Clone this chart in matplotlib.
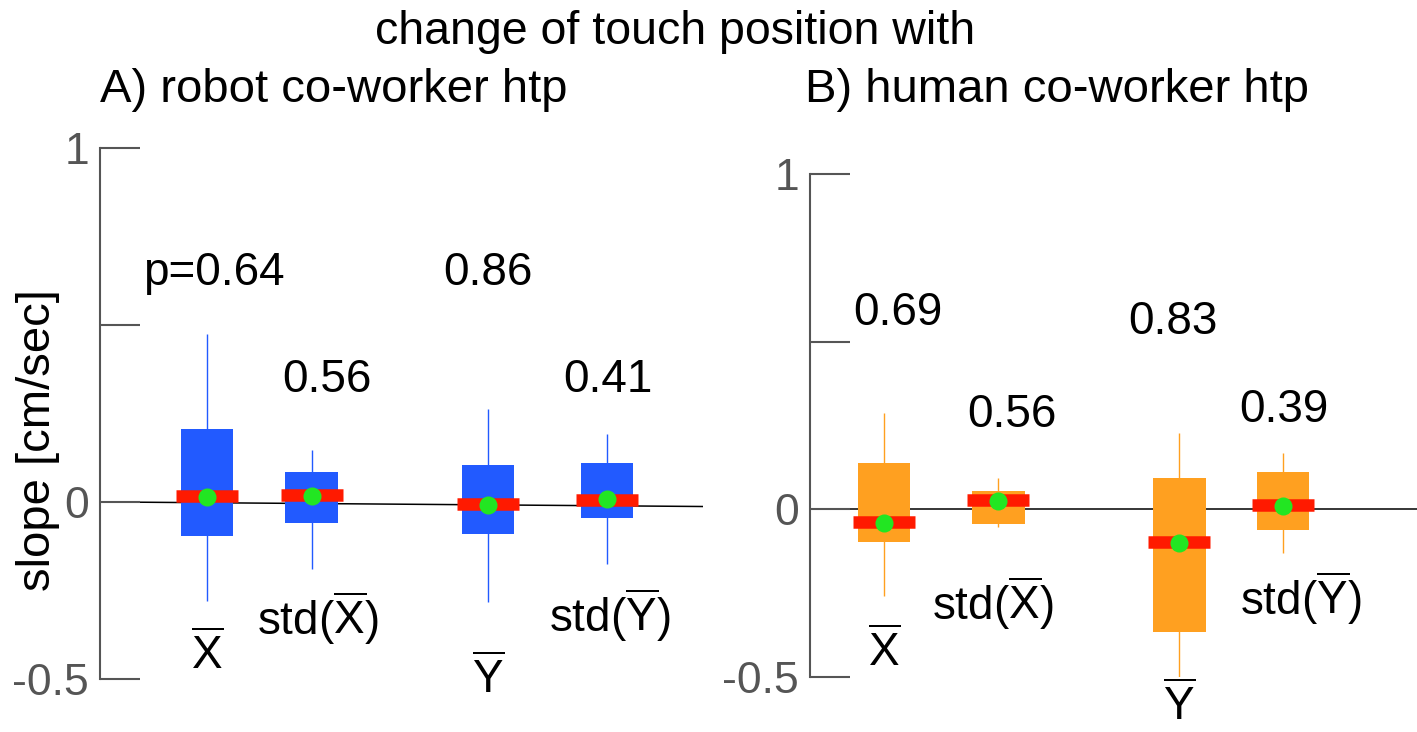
import matplotlib
matplotlib.use("Agg")
import matplotlib.pyplot as plt
import numpy as np

plt.rcParams['font.family'] = ['Liberation Sans', 'DejaVu Sans']
plt.rcParams['mathtext.fontset'] = 'custom'
plt.rcParams['mathtext.rm'] = 'Liberation Sans'
plt.rcParams['mathtext.it'] = 'Liberation Sans:italic'

# ---- data ----
categories = [r'$\overline{\mathrm{X}}$', r'std($\overline{\mathrm{X}}$)',
              r'$\overline{\mathrm{Y}}$', r'std($\overline{\mathrm{Y}}$)']

robot_q1 = [-0.095, -0.059, -0.092, -0.045]
robot_q3 = [0.207, 0.084, 0.104, 0.109]
robot_med = [0.017, 0.020, -0.006, 0.006]
robot_mean = [0.014, 0.018, -0.010, 0.008]
robot_lo = [-0.28, -0.19, -0.283, -0.176]
robot_hi = [0.473, 0.146, 0.263, 0.193]
robot_p = ['p=0.64', '0.56', '0.86', '0.41']

human_q1 = [-0.096, -0.045, -0.367, -0.063]
human_q3 = [0.137, 0.054, 0.093, 0.110]
human_med = [-0.039, 0.027, -0.096, 0.012]
human_mean = [-0.042, 0.024, -0.099, 0.010]
human_lo = [-0.257, -0.054, -0.50, -0.131]
human_hi = [0.287, 0.093, 0.227, 0.167]
human_p = ['0.69', '0.56', '0.83', '0.39']

yticks = [-0.5, 0, 0.5, 1]
yticklabels = ['-0.5', '0', '', '1']

# ---- layout ----
W, H = 1417, 732
fig = plt.figure(figsize=(W / 100, H / 100), dpi=100)

FS = 33
BLUE = '#225AFF'
ORANGE = '#FFA020'
RED = '#FF1A00'
GREEN = '#22E622'
GRAY = '#555555'


def panel(rect, xmax, pos, q1, q3, med, mean, lo, hi, color, ptxt, ppos, lpos, zero_end):
    ax = fig.add_axes(rect)
    ax.set_xlim(0, xmax)
    ax.set_ylim(-0.5, 1)
    for s in ['top', 'right', 'bottom']:
        ax.spines[s].set_visible(False)
    ax.spines['left'].set_color(GRAY)
    ax.spines['left'].set_linewidth(1.5)
    ax.set_xticks([])
    ax.set_yticks(yticks)
    ax.set_yticklabels(yticklabels)
    ax.tick_params(axis='y', direction='in', length=29, width=1.5, color=GRAY,
                   labelcolor=GRAY, labelsize=32, pad=8)
    ax.patch.set_visible(False)
    # zero line
    ax.plot([0, xmax], [0, zero_end], color='black', lw=1.1, zorder=1)
    bw = 0.49
    ax.vlines(pos, lo, hi, color=color, lw=1.0, zorder=2)
    ax.bar(pos, np.array(q3) - np.array(q1), bottom=q1, width=bw, color=color,
           edgecolor='none', zorder=3)
    ax.hlines(med, np.array(pos) - 0.29, np.array(pos) + 0.29, color=RED, lw=9, zorder=4)
    ax.plot(pos, mean, 'o', color=GREEN, ms=13, mec='none', zorder=5)
    for (px, py), t in zip(ppos, ptxt):
        ax.text(px, py, t, ha='center', va='center', fontsize=FS, color='black', clip_on=False)
    for (lx, ly), t in zip(lpos, categories):
        ax.text(lx, ly, t, ha='center', va='center', fontsize=FS, color='black', clip_on=False)
    return ax


# left panel (robot)
pos_a = [1.0, 1.98, 3.63, 4.74]
axA = panel([100 / W, (H - 679) / H, (703 - 100) / W, (679 - 147.7) / H], 5.64,
            pos_a, robot_q1, robot_q3, robot_med, robot_mean, robot_lo, robot_hi, BLUE,
            robot_p,
            [(1.06, 0.645), (2.12, 0.345), (3.63, 0.645), (4.75, 0.345)],
            [(1.0, -0.435), (2.04, -0.33), (3.63, -0.505), (4.77, -0.32)],
            -0.013)

# right panel (human)
pos_b = [0.69, 1.76, 3.45, 4.42]
axB = panel([810 / W, (H - 677) / H, (W - 810) / W, (677 - 174) / H], 5.67,
            pos_b, human_q1, human_q3, human_med, human_mean, human_lo, human_hi, ORANGE,
            human_p,
            [(0.82, 0.585), (1.89, 0.28), (3.39, 0.56), (4.43, 0.295)],
            [(0.69, -0.43), (1.71, -0.28), (3.45, -0.59), (4.58, -0.265)],
            0.0)

fig.text(38 / W, 1 - 440 / H, 'slope [cm/sec]', rotation=90, ha='center', va='center',
         fontsize=34, color='black')
fig.text(675 / W, 1 - 32 / H, 'change of touch position with', ha='center', va='center',
         fontsize=33.5, color='black')
fig.text(100 / W, 1 - 90 / H, 'A) robot co-worker htp', ha='left', va='center',
         fontsize=34, color='black')
fig.text(805 / W, 1 - 90 / H, 'B) human co-worker htp', ha='left', va='center',
         fontsize=34, color='black')

fig.savefig('out.png', dpi=100, facecolor='white')
